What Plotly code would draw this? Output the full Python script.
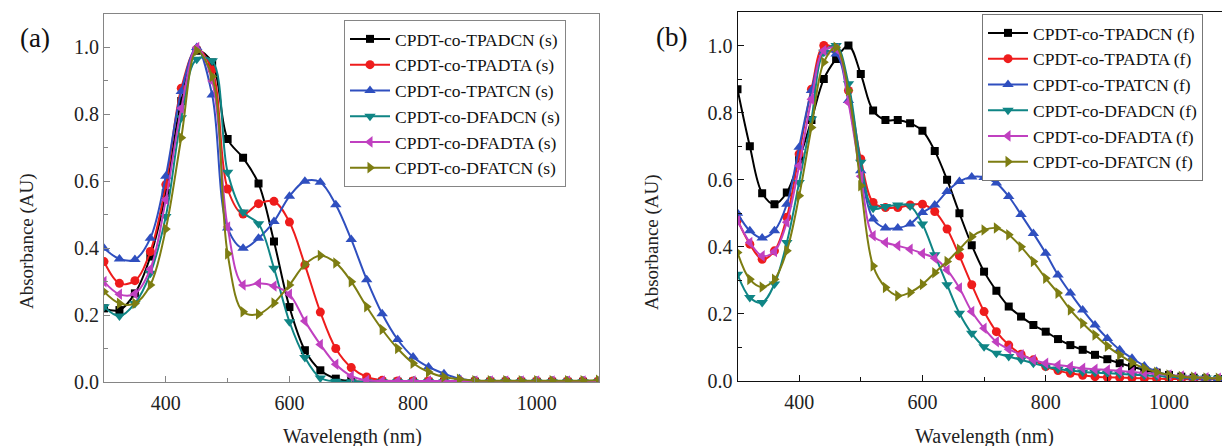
import plotly.graph_objects as go

# ---------------- data ----------------
wl_s = [300, 325, 350, 375, 400, 425, 450, 475, 500, 525, 550, 575, 600, 625, 650, 675, 700,
        725, 750, 775, 800, 825, 850, 875, 900, 925, 950, 975, 1000, 1025, 1050, 1075, 1100]

tpadcn_s = [0.22, 0.215, 0.265, 0.375, 0.565, 0.84, 0.99, 0.955, 0.726, 0.67, 0.593, 0.42, 0.224,
            0.095, 0.035, 0.01, 0.003, 0.001, 0.001, 0.001, 0.001, 0.001, 0.001, 0.001, 0.001,
            0.001, 0.001, 0.001, 0.001, 0.001, 0.001, 0.001, 0.001]
tpadta_s = [0.36, 0.295, 0.303, 0.39, 0.59, 0.878, 0.995, 0.933, 0.577, 0.502, 0.533, 0.54, 0.478,
            0.35, 0.209, 0.10, 0.043, 0.015, 0.005, 0.003, 0.003, 0.003, 0.003, 0.003, 0.003,
            0.003, 0.003, 0.003, 0.003, 0.003, 0.003, 0.003, 0.003]
tpatcn_s = [0.40, 0.368, 0.366, 0.43, 0.615, 0.868, 1.0, 0.858, 0.46, 0.40, 0.43, 0.48, 0.555,
            0.60, 0.597, 0.53, 0.426, 0.306, 0.204, 0.127, 0.075, 0.045, 0.025, 0.01, 0.004,
            0.003, 0.003, 0.003, 0.003, 0.003, 0.003, 0.003, 0.003]
dfadcn_s = [0.225, 0.197, 0.235, 0.325, 0.495, 0.79, 0.965, 0.96, 0.627, 0.508, 0.473, 0.34, 0.18,
            0.073, 0.012, 0.002, 0.001, 0.001, 0.001, 0.001, 0.001, 0.001, 0.001, 0.001, 0.001,
            0.001, 0.001, 0.001, 0.001, 0.001, 0.001, 0.001, 0.001]
dfadta_s = [0.30, 0.262, 0.264, 0.338, 0.545, 0.818, 1.0, 0.90, 0.463, 0.29, 0.295, 0.287, 0.262,
            0.182, 0.112, 0.053, 0.018, 0.005, 0.003, 0.003, 0.003, 0.003, 0.003, 0.003, 0.003,
            0.003, 0.003, 0.003, 0.003, 0.003, 0.003, 0.003, 0.003]
dfatcn_s = [0.27, 0.235, 0.235, 0.29, 0.457, 0.73, 0.99, 0.913, 0.383, 0.21, 0.203, 0.236, 0.29,
            0.351, 0.378, 0.356, 0.30, 0.225, 0.157, 0.10, 0.056, 0.03, 0.015, 0.008, 0.004,
            0.004, 0.004, 0.004, 0.004, 0.004, 0.004, 0.004, 0.005]

wl_f = [300, 320, 340, 360, 380, 400, 420, 440, 460, 480, 500, 520, 540, 560, 580, 600, 620, 640,
        660, 680, 700, 720, 740, 760, 780, 800, 820, 840, 860, 880, 900, 920, 940, 960, 980, 1000,
        1020, 1040, 1060, 1080, 1100]

tpadcn_f = [0.87, 0.70, 0.56, 0.527, 0.562, 0.66, 0.778, 0.90, 0.96, 1.0, 0.915, 0.806, 0.778,
            0.778, 0.768, 0.746, 0.686, 0.60, 0.50, 0.405, 0.326, 0.269, 0.222, 0.192, 0.167,
            0.147, 0.125, 0.107, 0.093, 0.078, 0.065, 0.053, 0.043, 0.033, 0.025, 0.018, 0.013,
            0.01, 0.008, 0.006, 0.005]
tpadta_f = [0.48, 0.408, 0.363, 0.388, 0.488, 0.677, 0.87, 1.0, 0.985, 0.866, 0.662, 0.532, 0.517,
            0.517, 0.525, 0.527, 0.505, 0.453, 0.373, 0.287, 0.207, 0.147, 0.107, 0.08, 0.063,
            0.043, 0.031, 0.023, 0.017, 0.013, 0.011, 0.01, 0.009, 0.008, 0.007, 0.006, 0.006,
            0.005, 0.005, 0.005, 0.005]
tpatcn_f = [0.50, 0.448, 0.426, 0.448, 0.527, 0.697, 0.866, 0.98, 0.975, 0.836, 0.627, 0.483,
            0.456, 0.456, 0.468, 0.502, 0.525, 0.565, 0.595, 0.608, 0.607, 0.59, 0.55, 0.496,
            0.44, 0.381, 0.316, 0.262, 0.212, 0.167, 0.127, 0.093, 0.068, 0.045, 0.028, 0.018,
            0.013, 0.01, 0.008, 0.007, 0.006]
dfadcn_f = [0.318, 0.249, 0.234, 0.289, 0.413, 0.592, 0.781, 0.98, 1.0, 0.886, 0.652, 0.515, 0.52,
            0.525, 0.522, 0.468, 0.376, 0.287, 0.202, 0.142, 0.102, 0.083, 0.073, 0.063, 0.053,
            0.043, 0.036, 0.031, 0.027, 0.025, 0.023, 0.021, 0.019, 0.017, 0.015, 0.013, 0.011,
            0.01, 0.009, 0.008, 0.007]
dfadta_f = [0.478, 0.413, 0.373, 0.386, 0.473, 0.642, 0.84, 0.985, 0.99, 0.83, 0.61, 0.433, 0.413,
            0.403, 0.393, 0.38, 0.366, 0.331, 0.277, 0.207, 0.157, 0.117, 0.095, 0.078, 0.063,
            0.053, 0.048, 0.043, 0.038, 0.035, 0.033, 0.03, 0.027, 0.024, 0.021, 0.018, 0.015,
            0.012, 0.01, 0.008, 0.006]
dfatcn_f = [0.383, 0.303, 0.28, 0.303, 0.388, 0.552, 0.756, 0.95, 0.995, 0.866, 0.582, 0.343,
            0.279, 0.254, 0.264, 0.288, 0.323, 0.356, 0.393, 0.43, 0.45, 0.456, 0.436, 0.40,
            0.356, 0.306, 0.262, 0.212, 0.172, 0.137, 0.104, 0.078, 0.055, 0.038, 0.026, 0.018,
            0.013, 0.011, 0.009, 0.008, 0.007]

names_s = ["CPDT-co-TPADCN (s)", "CPDT-co-TPADTA (s)", "CPDT-co-TPATCN (s)",
           "CPDT-co-DFADCN (s)", "CPDT-co-DFADTA (s)", "CPDT-co-DFATCN (s)"]
names_f = ["CPDT-co-TPADCN (f)", "CPDT-co-TPADTA (f)", "CPDT-co-TPATCN (f)",
           "CPDT-co-DFADCN (f)", "CPDT-co-DFADTA (f)", "CPDT-co-DFATCN (f)"]

# ---------------- style ----------------
colors = ["#000000", "#ee1c1c", "#2f4fbf", "#0f8585", "#c040c0", "#7d7d12"]
symbols = ["square", "circle", "triangle-up", "triangle-down", "triangle-left", "triangle-right"]
sizes = [8, 9, 10, 10, 10, 10]
FONT = "Liberation Serif, Times New Roman, serif"
W, H = 1222, 446


def px(x):
    return x / W


def py(y):
    return 1 - y / H


fig = go.Figure()

series_s = [tpadcn_s, tpadta_s, tpatcn_s, dfadcn_s, dfadta_s, dfatcn_s]
series_f = [tpadcn_f, tpadta_f, tpatcn_f, dfadcn_f, dfadta_f, dfatcn_f]

for i, ys in enumerate(series_s):
    fig.add_trace(go.Scatter(
        x=wl_s, y=ys, name=names_s[i], mode="lines+markers",
        line=dict(color=colors[i], width=2, shape="spline", smoothing=1),
        marker=dict(symbol=symbols[i], size=sizes[i], color=colors[i]),
        xaxis="x", yaxis="y", legend="legend"))

for i, ys in enumerate(series_f):
    fig.add_trace(go.Scatter(
        x=wl_f, y=ys, name=names_f[i], mode="lines+markers",
        line=dict(color=colors[i], width=2, shape="spline", smoothing=1),
        marker=dict(symbol=symbols[i], size=sizes[i], color=colors[i]),
        xaxis="x2", yaxis="y2", legend="legend2"))

GRAY = "#858585"
DARK = "#111111"
tickfont = dict(family=FONT, size=20, color="#222222")


def xax(domain, rng, color, mirror, anchor):
    return dict(domain=domain, range=rng, anchor=anchor, showgrid=False, zeroline=False,
                showline=True, linecolor=color, linewidth=1.2, mirror=mirror,
                ticks="inside", ticklen=6, tickcolor=color, tickwidth=1.2,
                tick0=0, dtick=200, tickfont=tickfont, ticklabelstandoff=3,
                minor=dict(ticks="inside", ticklen=4, dtick=100, tickcolor=color, tickwidth=1.2))


def yax(domain, color, mirror, anchor):
    return dict(domain=domain, range=[0, 1.1], anchor=anchor, showgrid=False, zeroline=False,
                showline=True, linecolor=color, linewidth=1.2, mirror=mirror,
                ticks="inside", ticklen=6, tickcolor=color, tickwidth=1.2,
                tick0=0, dtick=0.2, tickformat=".1f", tickfont=tickfont, ticklabelstandoff=0,
                minor=dict(ticks="inside", ticklen=4, dtick=0.1, tickcolor=color, tickwidth=1.2))


legend_common = dict(xanchor="left", yanchor="top", bgcolor="white", borderwidth=1,
                     itemwidth=40,
                     font=dict(family=FONT, size=17.5, color="#111111"), tracegroupgap=0)

fig.update_layout(
    width=W, height=H,
    margin=dict(l=0, r=0, t=0, b=0, autoexpand=False),
    paper_bgcolor="white", plot_bgcolor="white",
    xaxis=xax([px(104), px(598.5)], [300, 1100], GRAY, True, "y"),
    yaxis=yax([py(382), py(14)], GRAY, True, "x"),
    xaxis2=xax([px(737.5), 1.0], [300, 1086], DARK, True, "y2"),
    yaxis2=yax([py(381), py(12)], DARK, False, "x2"),
    legend=dict(x=px(344), y=py(20), bordercolor=GRAY, **legend_common),
    legend2=dict(x=px(982), y=py(14), bordercolor="#777777", **legend_common),
)

annots = [
    dict(text="(a)", x=px(35), y=py(38), font=dict(family=FONT, size=27, color="#111111")),
    dict(text="(b)", x=px(671), y=py(37), font=dict(family=FONT, size=27, color="#111111")),
    dict(text="Absorbance (AU)", x=px(27), y=py(241), textangle=-90,
         font=dict(family=FONT, size=19, color="#222222")),
    dict(text="Absorbance (AU)", x=px(652), y=py(242), textangle=-90,
         font=dict(family=FONT, size=19, color="#222222")),
    dict(text="Wavelength (nm)", x=px(352.5), y=py(436),
         font=dict(family=FONT, size=20, color="#222222")),
    dict(text="Wavelength (nm)", x=px(984), y=py(436),
         font=dict(family=FONT, size=20, color="#222222")),
]
for a in annots:
    fig.add_annotation(xref="paper", yref="paper", xanchor="center", yanchor="middle",
                       showarrow=False, **a)

fig.write_html("out.html", config={"displayModeBar": False},
               post_script="document.body.style.margin='0';document.body.style.overflow='hidden';")
